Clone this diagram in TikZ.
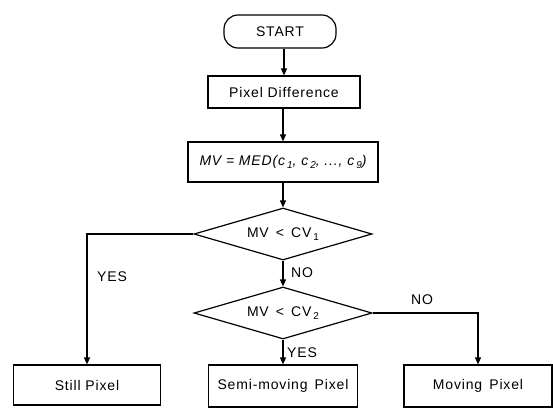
\documentclass[tikz,border=0pt]{standalone}
\usepackage{fontspec}
\setmainfont{Liberation Sans}[LetterSpace=6]
\usetikzlibrary{arrows.meta,shapes.geometric}
\newcommand\sbx[1]{\kern2pt\raisebox{-0.45ex}{\fontsize{10}{10}\selectfont #1}}
\begin{document}
\begin{tikzpicture}[x=1pt,y=-1pt, line width=1.2pt,
  font=\fontsize{14}{16}\selectfont,
  >={Triangle[length=7pt,width=6pt]},
  box/.style={draw, rectangle, inner sep=0pt, minimum height=40},
  term/.style={draw, rectangle, rounded corners=14pt, inner sep=0pt, minimum width=112, minimum height=33},
  dec/.style={draw, diamond, inner sep=0pt, shape aspect=3.4, minimum width=178, minimum height=52},
  lbl/.style={inner sep=0pt}]
\useasboundingbox (0,0) rectangle (553,408);
\node[term] (start) at (280,31.5) {START};
\node[box, minimum width=152, minimum height=32] (diff) at (284,92) {Pixel Difference};
\node[box, minimum width=190, minimum height=40] (mv) at (283,162)
  {\itshape MV = MED(c\sbx{1}, c\sbx{2}, ..., c\sbx{9})};
\node[dec] (d1) at (283,234) {MV \,<\, CV\sbx{1}};
\node[dec] (d2) at (283,313) {MV \,<\, CV\sbx{2}};
\node[box, minimum width=147] (still) at (87,385) {Still Pixel};
\node[box, minimum width=149, minimum height=42] (semi) at (283,386) {Semi-moving\, Pixel};
\node[box, minimum width=148, minimum height=42] (moving) at (478,386) {Moving\, Pixel};
\draw[->] (start.south -| diff.north) -- (diff.north);
\draw[->] (diff.south -| mv.north) -- (mv.north);
\draw[->] (mv.south -| d1.north) -- (d1.north);
\draw[->] (d1.south) -- (d2.north);
\draw[->] (d2.south) -- (semi.north -| d2.south);
\draw[->] (d1.west) -| (still.north);
\draw[->] (d2.east) -| (moving.north);
\node[lbl] (yes1) at (112,277) {YES};
\node[lbl] (no1) at (302,273) {NO};
\node[lbl] (yes2) at (302,353) {YES};
\node[lbl] (no2) at (422,300) {NO};
\end{tikzpicture}
\end{document}
